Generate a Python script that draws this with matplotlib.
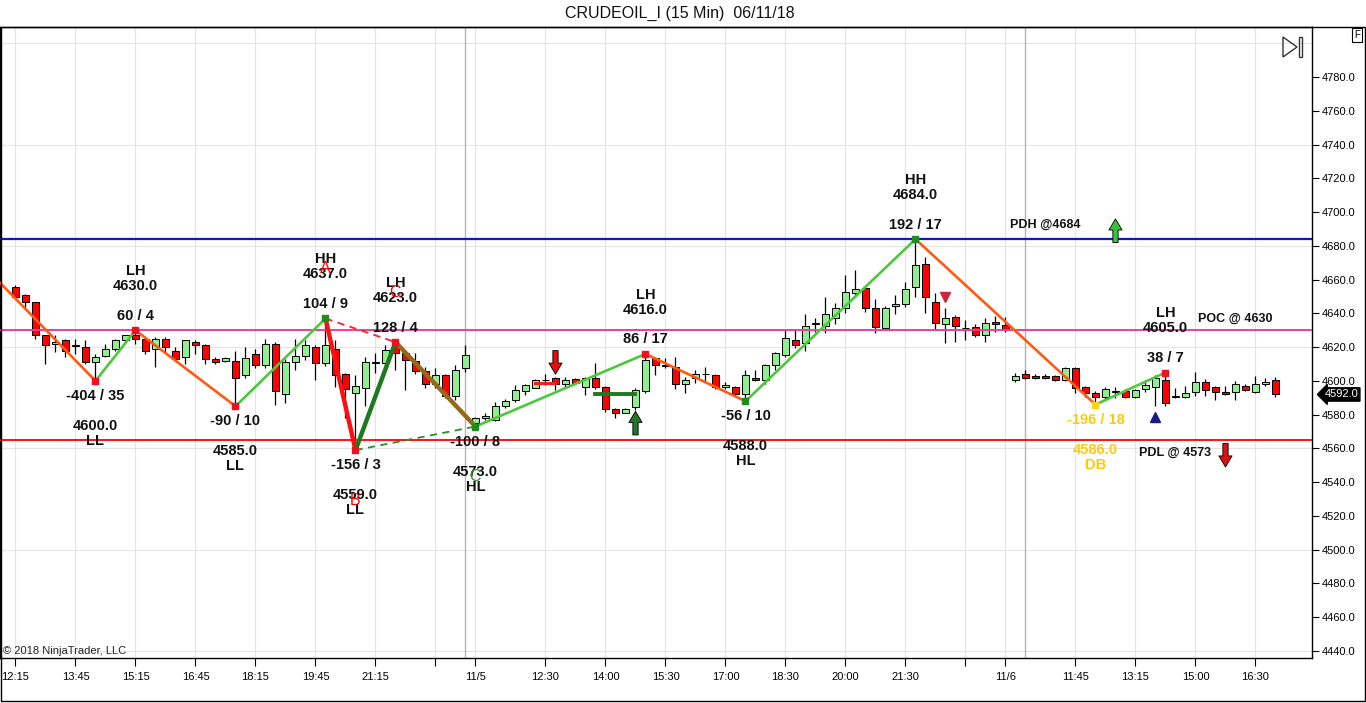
import numpy as np
import matplotlib
matplotlib.use('Agg')
import matplotlib.pyplot as plt
from matplotlib.patches import Rectangle, Polygon

plt.rcParams['font.family'] = ['Liberation Sans', 'DejaVu Sans']

# 15 min bars, index = bar slot on the chart
bar_idx = np.arange(1, 128)
opens = [4655.5, 4651, 4646.5, 4627, 4622, 4624, 4620.7, 4620, 4611, 4615,
         4619, 4624, 4627, 4625, 4619, 4625, 4618, 4614, 4623, 4621,
         4613, 4612, 4612, 4603.5, 4616, 4609.5, 4622, 4592, 4611, 4615,
         4620, 4610.5, 4619, 4604, 4593, 4595.6, 4610.5, 4610.4, 4620.7, 4616.4,
         4612, 4606, 4598, 4603.5, 4591.3, 4607.5, 4575, 4578, 4577, 4585,
         4589, 4594.2, 4596, 4600.5, 4602, 4598, 4601, 4596.6, 4602, 4596.2,
         4583.2, 4581.2, 4584.4, 4594, 4613.4, 4609, 4608, 4598.2, 4601.5, 4604,
         4603.5, 4596.2, 4596.2, 4592.2, 4602, 4600.5, 4609.4, 4615.4, 4624.3, 4622.3,
         4633.7, 4632.6, 4637, 4643, 4652.3, 4655.3, 4643, 4631.2, 4644.4, 4645.6,
         4655.5, 4669.3, 4647, 4633.7, 4638, 4631.2, 4632.2, 4627.2, 4635, 4633,
         4600.6, 4604, 4603, 4603.1, 4603, 4600.6, 4607.5, 4596.2, 4593, 4590.7,
         4593.6, 4594, 4590.7, 4595, 4596.2, 4600.6, 4590.7, 4590.3, 4593.2, 4599.2,
         4596.2, 4593.2, 4593.6, 4597.2, 4593.6, 4598.2, 4600.6]
highs = [4657, 4651.5, 4647, 4627, 4627, 4625, 4625, 4624, 4616, 4622,
         4625, 4627.5, 4630, 4625, 4626, 4626, 4620, 4624, 4624, 4622,
         4614, 4614, 4618, 4620, 4619, 4625, 4623, 4613, 4625, 4624.5,
         4621, 4637, 4624, 4605, 4603.5, 4614, 4616.4, 4621.3, 4623, 4617,
         4616.4, 4608.5, 4607.5, 4604, 4609.4, 4621.3, 4578.5, 4581, 4587.7, 4589.5,
         4597.6, 4598, 4601, 4604, 4602.5, 4602.5, 4602, 4602.5, 4610.4, 4597,
         4584, 4584, 4595.6, 4616, 4614, 4613.4, 4614.4, 4602.5, 4606.5, 4608,
         4604, 4599.6, 4597, 4606.5, 4606.5, 4610, 4617, 4630, 4631, 4639.7,
         4637, 4649.9, 4646, 4662.8, 4665.7, 4656, 4648.3, 4644.4, 4651, 4658.8,
         4684, 4673.2, 4652, 4643, 4639, 4636, 4634, 4637, 4638.5, 4638,
         4604.5, 4606.5, 4604, 4604, 4603.5, 4608, 4608, 4597, 4594, 4596.2,
         4596.6, 4595, 4595.5, 4600.6, 4603.5, 4605, 4595.6, 4597, 4605.5, 4601,
         4597, 4597, 4600, 4598.2, 4603, 4602, 4602.5]
lows = [4649, 4643, 4625, 4610, 4617, 4614, 4616, 4610, 4600, 4614,
        4618, 4623, 4622, 4616, 4608, 4617, 4613, 4610, 4616, 4610,
        4610, 4611, 4585, 4601.5, 4607.5, 4607.5, 4586, 4587, 4606.5, 4612.5,
        4600.5, 4609, 4596.6, 4578, 4559, 4585, 4604.5, 4608.5, 4606.5, 4594.6,
        4604, 4595.6, 4595.6, 4590, 4589, 4605.5, 4573, 4577, 4576, 4584,
        4587.7, 4591.7, 4596, 4597.6, 4594.6, 4596.6, 4598, 4591.7, 4595, 4581.8,
        4577.8, 4581, 4583, 4593, 4603.5, 4607.5, 4595, 4593, 4598.6, 4599.6,
        4595, 4595, 4591.7, 4588, 4600, 4598, 4606.5, 4614, 4619.3, 4618,
        4629.2, 4628.6, 4633.7, 4640, 4650, 4641, 4628.2, 4630, 4639.7, 4644,
        4649.5, 4640, 4630.2, 4622.3, 4623.3, 4624.3, 4626, 4623.3, 4629, 4629,
        4599.6, 4601, 4601, 4601, 4600, 4600, 4592.7, 4590.7, 4586, 4589,
        4589.7, 4589.7, 4590, 4593.6, 4585, 4585, 4590, 4589.7, 4591, 4591,
        4589, 4591.6, 4589, 4594, 4593, 4597, 4590.7]
closes = [4650, 4646.5, 4627, 4621, 4623, 4618, 4620.7, 4611, 4614, 4619,
          4624, 4627, 4625, 4618, 4625, 4620, 4613, 4624, 4621, 4613,
          4611, 4613.4, 4602, 4613.4, 4609.5, 4622, 4594, 4611, 4615, 4621,
          4610.5, 4621, 4603.5, 4595, 4597, 4611, 4611, 4618.3, 4616.4, 4612.4,
          4606, 4598, 4603.5, 4591.3, 4606.5, 4615.4, 4578, 4579, 4585, 4588.3,
          4594.6, 4597.6, 4600.5, 4600.6, 4598.2, 4600.5, 4599, 4602, 4596.2, 4583.2,
          4581.2, 4583.2, 4594.6, 4612.4, 4609.4, 4609, 4598.2, 4600.5, 4604, 4604,
          4596.6, 4597.6, 4592, 4603.5, 4600.5, 4609.4, 4616.3, 4625.2, 4621.3, 4632.6,
          4633.7, 4639.7, 4643, 4652.9, 4654.3, 4643, 4632.2, 4643, 4645.6, 4654.3,
          4668.7, 4649.5, 4634.1, 4637.1, 4632.6, 4631.2, 4627.2, 4634.1, 4633.7, 4630.6,
          4603.1, 4602, 4601.5, 4601.9, 4600.6, 4607.5, 4595.6, 4593, 4590.7, 4595.2,
          4593.6, 4590.7, 4594.6, 4597.6, 4601.5, 4587.1, 4590.9, 4592.6, 4599.2, 4594.6,
          4593.6, 4592.3, 4598, 4594.6, 4598, 4599.6, 4592]

tick_idx = [1, 7, 13, 19, 25, 31, 37, 43, 47, 54, 60, 66, 72, 78, 84, 90, 96, 100, 107, 113, 119, 125]
tick_lbl = ['12:15', '13:45', '15:15', '16:45', '18:15', '19:45', '21:15', '', '11/5', '12:30',
            '14:00', '15:30', '17:00', '18:30', '20:00', '21:30', '', '11/6', '11:45', '13:15',
            '15:00', '16:30']
session_breaks = [46, 102]

# zigzag swings
swing_idx = [-2, 9, 13, 23, 32, 35, 39, 47, 64, 74, 91, 109, 116]
swing_px = [4667, 4600, 4630, 4585, 4637, 4559, 4623, 4573, 4616, 4588, 4684, 4586, 4605]
swing_tag = ['', 'LL', 'LH', 'LL', 'HH', 'LL', 'LH', 'HL', 'LH', 'HL', 'HH', 'DB', 'LH']
swing_stat = ['', '-404 / 35', '60 / 4', '-90 / 10', '104 / 9', '-156 / 3', '128 / 4',
              '-100 / 8', '86 / 17', '-56 / 10', '192 / 17', '-196 / 18', '38 / 7']
swing_dot = [None, 'r', 'r', 'r', 'g', 'r', 'r', 'g', 'r', 'g', 'g', 'y', 'r']

abc_swings = [4, 5, 6, 7]
abc_letters = [('A', 4, 'red'), ('B', 5, 'red'), ('C', 6, 'red'), ('C', 7, '#2E8B2E')]

pdh, poc, pdl = 4684, 4630, 4565

down_arrows = [(55, 4618, 4604, '#E01010'), (122, 4563, 4549, '#E01010')]
up_arrows = [(63, 4568, 4582, '#1E7A1E'), (111, 4682, 4696, '#3CC03C')]
flat_red = (53, 55, 4599)
flat_green = (59, 63, 4592)

dot_colors = {'r': '#F01020', 'g': '#1E8C1E', 'y': '#FFD21E'}
up_col = '#4CC83C'
down_col = '#FF5A14'

fig = plt.figure(figsize=(13.66, 7.03), dpi=100)
ax = fig.add_axes([0.0, 45 / 703, 1312 / 1366, 631 / 703])
ax.set_xlim(-0.55, 130.65)
ax.set_ylim(4435.85, 4809.7)

# grid
for y in range(4440, 4810, 60):
    ax.axhline(y, color='#E4E4E4', lw=0.8, zorder=0)
for t in tick_idx:
    ax.axvline(t, color='#E4E4E4', lw=0.8, zorder=0)
for s in session_breaks:
    ax.axvline(s, color='#B4B4B4', lw=1, zorder=0)

# candles
o = np.array(opens); h = np.array(highs); l = np.array(lows); c = np.array(closes)
ax.vlines(bar_idx, l, h, color='black', lw=0.9, zorder=2)
bull = c >= o
body_col = np.where(bull, '#90EE90', '#FF0000')
ax.bar(bar_idx, np.maximum(np.abs(c - o), 0.35), bottom=np.minimum(o, c), width=0.62,
       color=body_col, edgecolor='black', linewidth=0.7, zorder=3)

# reference lines
ax.axhline(pdh, color='#1414C8', lw=1.6, zorder=4)
ax.axhline(poc, color='#F03C9C', lw=1.4, zorder=4)
ax.axhline(pdl, color='#FF1010', lw=1.4, zorder=4)

# zigzag
for i in range(1, len(swing_idx)):
    col = up_col if swing_px[i] > swing_px[i - 1] else down_col
    ax.plot(swing_idx[i - 1:i + 1], swing_px[i - 1:i + 1], color=col, lw=1.9,
            solid_capstyle='round', zorder=5)

# ABC pattern legs
a, b, cc, d = abc_swings
ax.plot([swing_idx[a], swing_idx[b]], [swing_px[a], swing_px[b]], color='#FF1010', lw=3.2, zorder=6)
ax.plot([swing_idx[b], swing_idx[cc]], [swing_px[b], swing_px[cc]], color='#1F7A1F', lw=3.2, zorder=6)
ax.plot([swing_idx[cc], swing_idx[d]], [swing_px[cc], swing_px[d]], color='#946A1A', lw=3.2, zorder=6)
ax.plot([swing_idx[a], swing_idx[cc]], [swing_px[a], swing_px[cc]], color='#FF2020', lw=1.3,
        ls=(0, (4, 3)), zorder=6)
ax.plot([swing_idx[b], swing_idx[d]], [swing_px[b], swing_px[d]], color='#2E8B2E', lw=1.3,
        ls=(0, (4, 3)), zorder=6)

# flat marks
ax.plot(flat_red[:2], [flat_red[2]] * 2, color='#F02020', lw=2.2, zorder=6)
ax.plot(flat_green[:2], [flat_green[2]] * 2, color='#1E7A1E', lw=2.8, zorder=6)

# swing dots and labels
for i in range(1, len(swing_idx)):
    xi, yi = swing_idx[i], swing_px[i]
    ax.plot(xi, yi, marker='s', ms=5, color=dot_colors[swing_dot[i]], zorder=7)
    is_high = swing_px[i] > swing_px[i - 1]
    sgn = 1 if is_high else -1
    tcol = '#FFC90E' if swing_tag[i] == 'DB' else '#111111'
    offs = [10.5, 31.8, 42.6] if is_high else [10.8, 32.4, 43.2]
    txts = [swing_stat[i], '%.1f' % yi, swing_tag[i]]
    for t, off in zip(txts, offs):
        ax.annotate(t, (xi, yi), xytext=(0, sgn * off), textcoords='offset points',
                    ha='center', va='center', fontsize=10.5, fontweight='bold',
                    color=tcol, zorder=8)

for letter, si, col in abc_letters:
    sgn = 1 if swing_px[si] > swing_px[si - 1] else -1
    ax.annotate(letter, (swing_idx[si], swing_px[si]), xytext=(0, sgn * 36),
                textcoords='offset points', ha='center', va='center', fontsize=11.5,
                color=col, zorder=9)

# signal arrows
for xi, y0, y1, col in down_arrows + up_arrows:
    ax.annotate('', xy=(xi, y1), xytext=(xi, y0),
                arrowprops=dict(arrowstyle='simple,head_width=0.95,head_length=0.8,tail_width=0.38',
                                fc=col, ec='black', lw=0.6, shrinkA=0, shrinkB=0), zorder=8)
ax.plot(94, 4650, marker='v', ms=7, color='#C8283C', zorder=8)
ax.plot(115, 4578.5, marker='^', ms=7, color='#1A1A8C', zorder=8)

# level captions
ax.annotate('PDH @4684', (104, pdh), xytext=(0, 10.5), textcoords='offset points',
            ha='center', va='center', fontsize=9, fontweight='bold', color='#111111')
ax.annotate('POC @ 4630', (123, poc), xytext=(0, 8), textcoords='offset points',
            ha='center', va='center', fontsize=9, fontweight='bold', color='#111111')
ax.annotate('PDL @ 4573', (117, pdl), xytext=(0, -9.5), textcoords='offset points',
            ha='center', va='center', fontsize=9, fontweight='bold', color='#111111')

# axes
ax.set_xticks(tick_idx)
ax.set_xticklabels(tick_lbl)
ax.set_yticks(np.arange(4440, 4781, 20))
ax.set_yticklabels(['%.1f' % v for v in np.arange(4440, 4781, 20)])
ax.yaxis.tick_right()
ax.tick_params(axis='y', direction='out', length=5, labelsize=8, pad=2, colors='black')
ax.tick_params(axis='x', direction='out', length=6, labelsize=8, pad=4, colors='black')
for sp in ax.spines.values():
    sp.set_color('black')
    sp.set_linewidth(1)

# last price tag
ax.annotate('%.1f' % closes[-1], (1, closes[-1]), xycoords=('axes fraction', 'data'),
            xytext=(9, 0), textcoords='offset points', ha='left', va='center',
            fontsize=8, color='white',
            bbox=dict(boxstyle='larrow,pad=0.15', fc='black', ec='black'))

# title, copyright, frame, icons
fig.text(680 / 1366, 1 - 13 / 703, 'CRUDEOIL_I (15 Min)  06/11/18', ha='center', va='center',
         fontsize=11.5, color='#111111')
ax.text(0.002, 0.003, '\u00a9 2018 NinjaTrader, LLC', transform=ax.transAxes, fontsize=8,
        color='#222222', ha='left', va='bottom')
fig.add_artist(Rectangle((0.5 / 1366, 2 / 703), 1364 / 1366, 674 / 703, transform=fig.transFigure,
                         fill=False, ec='black', lw=1))
fig.add_artist(Polygon([(1283 / 1366, 1 - 37 / 703), (1283 / 1366, 1 - 57 / 703),
                        (1297 / 1366, 1 - 47 / 703)], closed=True, fill=False, ec='#333333',
                       lw=1, transform=fig.transFigure))
fig.add_artist(Rectangle((1299 / 1366, 1 - 57 / 703), 3 / 1366, 20 / 703, fill=False,
                         ec='#333333', lw=1, transform=fig.transFigure))
fig.text(1357 / 1366, 1 - 35 / 703, 'F', ha='center', va='center', fontsize=7,
         bbox=dict(boxstyle='square,pad=0.2', fc='white', ec='black', lw=0.8))

fig.savefig('out.png', dpi=100)
